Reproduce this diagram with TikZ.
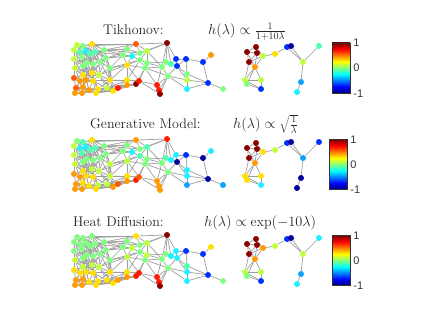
\documentclass[tikz,border=0pt]{standalone}
\usepackage{fontspec}
\newfontfamily\cbf{Liberation Sans}
\pgfdeclarelayer{bg}
\pgfsetlayers{bg,main}
\definecolor{jdr}{HTML}{8C0000}
\definecolor{jr}{HTML}{FF1A00}
\definecolor{jor}{HTML}{FF5A00}
\definecolor{jo}{HTML}{FF9A00}
\definecolor{jy}{HTML}{FFE000}
\definecolor{jyg}{HTML}{C0FF3F}
\definecolor{jg}{HTML}{80FF80}
\definecolor{jcg}{HTML}{50FFB0}
\definecolor{jc}{HTML}{20F0FF}
\definecolor{jlb}{HTML}{10A0FF}
\definecolor{jb}{HTML}{0030FF}
\definecolor{jdb}{HTML}{0000A0}
\definecolor{cbdb}{rgb}{0,0,0.5}
\definecolor{cbb}{rgb}{0,0,1}
\definecolor{cbc}{rgb}{0,1,1}
\definecolor{cby}{rgb}{1,1,0}
\definecolor{cbr}{rgb}{1,0,0}
\definecolor{cbdr}{rgb}{0.5,0,0}
\pgfdeclareverticalshading{jet}{100bp}{color(0bp)=(cbdb); color(25bp)=(cbdb); color(31.25bp)=(cbb); color(43.75bp)=(cbc); color(56.25bp)=(cby); color(68.75bp)=(cbr); color(75bp)=(cbdr); color(100bp)=(cbdr)}
\tikzset{
  dot/.style={circle,inner sep=0pt,minimum size=6pt,draw=none},
  edge/.style={draw=black!38,line width=0.7pt},
  title/.style={font=\fontsize{14}{16}\selectfont,text=black!85,inner sep=0pt,anchor=base west},
  cbar/.style={draw=black!80,line width=0.5pt,shading=jet,minimum width=18pt,minimum height=50pt,inner sep=0pt},
  cblab/.style={font=\cbf\fontsize{11}{12}\selectfont,text=black!80,inner sep=0pt,anchor=west,xshift=3pt}
}
\def\Pos{1/77/45,2/83/46,3/92/44,4/74/50,5/80/52,6/86/51,7/90/54,8/95/52,9/104/50,10/82/57,11/74/59,12/87/63,13/93/64,14/100/62,15/106/58,16/75/68,17/83/66,18/110/68,19/74/78,20/83/75,21/92/73,22/99/75,23/80/81,24/86/80,25/93/81,26/110/80,27/76/88,28/83/87,29/89/90,30/98/89,31/107/88,32/75/93,33/82/93,34/96/93,35/113/91,36/118/88,37/123/55,38/127/49,39/136/44,40/140/53,41/147/51,42/132/56,43/140/60,44/127/65,45/145/68,46/127/80,47/127/85,48/136/84,49/139/81,50/157/85,51/159/90,52/160/94,53/167/43,54/162/67,55/166/62,56/171/64,57/168/76,58/176/59,59/177/66,60/186/59,61/187/74,62/187/80,63/187/89,64/203/62,65/211/55,66/208/83,67/223/89,68/147/63,a1/247/52,a2/256/47,a3/257/53,a4/249/62,a5/263/56,a6/275/54,a7/255/67,a8/245/80,a9/261/80,a10/247/84,a11/261/89,a12/287/47,a13/291/46,a14/303/62,a15/319/46,a16/301/82,a17/297/92}
\def\Edges{1/2,1/4,1/5,2/3,2/6,3/8,3/9,4/5,4/11,5/6,5/10,6/7,7/8,8/9,9/15,9/14,10/11,10/12,10/17,11/16,12/13,13/14,14/15,15/18,16/17,16/19,17/20,12/21,13/22,14/22,18/26,19/20,19/23,20/21,21/22,22/26,23/24,24/25,25/26,23/27,24/28,25/30,26/31,27/28,28/29,29/30,30/31,31/35,27/32,32/33,33/29,30/34,34/35,35/36,1/13,2/14,4/12,5/17,6/13,7/21,8/14,9/18,10/20,11/19,12/24,13/25,14/26,15/26,16/23,17/24,20/28,21/30,22/31,3/15,6/14,1/10,2/7,4/16,19/27,23/32,24/33,25/34,29/34,18/31,26/35,31/36,9/12,8/13,11/17,16/20,3/6,7/12,20/25,21/25,28/33,30/35,5/11,15/14,1/8,4/13,11/21,16/22,19/24,27/33,12/30,17/29,1/12,2/13,3/14,4/17,5/12,6/12,7/13,8/15,10/16,11/20,12/20,13/21,14/21,15/22,16/24,17/25,18/22,19/28,20/23,21/24,22/25,23/28,24/29,25/29,26/30,27/29,28/32,29/32,30/33,31/34,34/36,26/36,9/37,18/35,1/6,2/8,3/7,4/10,6/8,10/13,11/12,12/14,13/15,16/21,17/22,19/21,20/22,23/25,24/26,27/30,33/35,14/18,15/21,22/35,25/31,2/15,6/22,10/25,5/14,9/38,9/39,8/37,3/39,15/37,15/42,18/44,18/37,14/38,26/46,31/46,35/47,35/46,36/47,36/48,26/44,30/47,9/40,2/39,8/38,18/43,22/44,31/47,34/47,35/48,26/49,37/38,38/39,38/42,39/40,39/41,40/41,40/42,42/43,43/45,41/43,41/68,43/68,45/68,37/44,44/45,44/46,44/43,46/47,47/48,48/49,45/49,46/49,45/50,49/50,50/51,51/52,45/48,37/42,42/44,44/49,38/40,43/46,39/53,41/53,40/53,53/55,53/56,53/58,41/54,68/54,68/55,45/54,45/57,50/57,51/57,52/57,50/54,53/54,49/52,54/55,55/56,56/58,56/59,58/59,54/57,57/59,58/60,59/60,60/64,64/65,60/61,61/62,62/63,59/61,57/62,57/63,64/66,61/66,66/67,62/66,63/66,59/62,a1/a2,a1/a3,a2/a3,a1/a4,a2/a5,a3/a5,a3/a4,a4/a5,a5/a6,a1/a7,a4/a7,a3/a7,a5/a7,a6/a12,a12/a13,a12/a14,a13/a14,a14/a15,a14/a16,a16/a17,a7/a8,a7/a9,a4/a8,a8/a9,a8/a10,a10/a11,a9/a11,a8/a11,a7/a10}
\newcommand\placedots[2]{\foreach \n/\c in {#2} {\node[dot,fill=\c] (N#1-\n) at (P#1-\n) {};}}
\begin{document}
\begin{tikzpicture}[x=1pt,y=-1pt]
\path[use as bounding box] (0,0) rectangle (426,321);
% coordinates for the three rows
\foreach \r/\dy in {1/0,2/96,3/192}{
  \foreach \n/\x/\y in \Pos {\coordinate (P\r-\n) at (\x,\y+\dy);}
}
% row 1
\node[title] (t1) at (103,35) {Tikhonov:};
\node[title] (f1) at (208,35) {$h(\lambda)\propto\frac{1}{1+10\lambda}$};
\placedots{1}{1/jyg,2/jg,3/jy,4/jyg,5/jcg,6/jc,7/jcg,8/jcg,9/jg,10/jg,11/jyg,12/jg,13/jg,14/jg,15/jg,16/jyg,17/jg,18/jg,19/jor,20/jy,21/jy,22/jyg,23/jo,24/jo,25/jy,26/jy,27/jor,28/jo,29/jo,30/jy,31/jyg,32/jo,33/jo,34/jy,35/jy,36/jr,37/jg,38/jg,39/jor,40/jg,41/jyg,42/jc,43/jg,44/jy,45/jg,46/jy,47/jo,48/jdr,49/jr,50/jr,51/jr,52/jdr,53/jdr,54/jg,55/jg,56/jcg,57/jg,58/jb,59/jb,60/jb,61/jg,62/jyg,63/jc,64/jb,65/jo,66/jb,67/jg,68/jg,a1/jdr,a2/jdr,a3/jdr,a4/jdr,a5/jyg,a6/jy,a7/jo,a8/jyg,a9/jyg,a10/jg,a11/jb,a12/jb,a13/jdb,a14/jyg,a15/jcg,a16/jlb,a17/jc}
\node[cbar] (cb1) at (341,68) {};
% row 2
\node[title] (t2) at (90,128.5) {Generative Model:};
\node[title] (f2) at (233,128.5) {$h(\lambda)\propto\sqrt{\frac{1}{\lambda}}$};
\placedots{2}{1/jg,2/jcg,3/jy,4/jyg,5/jc,6/jc,7/jcg,8/jcg,9/jg,10/jcg,11/jyg,12/jg,13/jg,14/jg,15/jg,16/jyg,17/jg,18/jyg,19/jo,20/jy,21/jyg,22/jyg,23/jo,24/jy,25/jy,26/jyg,27/jo,28/jy,29/jy,30/jyg,31/jyg,32/jo,33/jo,34/jy,35/jo,36/jor,37/jg,38/jg,39/jo,40/jg,41/jcg,42/jc,43/jcg,44/jyg,45/jg,46/jy,47/jo,48/jr,49/jor,50/jo,51/jo,52/jo,53/jr,54/jg,55/jcg,56/jc,57/jg,58/jc,59/jdb,60/jb,61/jc,62/jc,63/jlb,64/jdb,65/jc,66/jdb,67/jlb,68/jg,a1/jdr,a2/jdr,a3/jdr,a4/jdr,a5/jy,a6/jyg,a7/jo,a8/jy,a9/jy,a10/jy,a11/jc,a12/jb,a13/jdb,a14/jlb,a15/jb,a16/jdb,a17/jdb}
\node[cbar] (cb2) at (338,164.5) {};
% row 3
\node[title] (t3) at (73,226.5) {Heat Diffusion:};
\node[title] (f3) at (204,226.5) {$h(\lambda)\propto\exp(-10\lambda)$};
\placedots{3}{1/jg,2/jg,3/jg,4/jg,5/jg,6/jg,7/jg,8/jg,9/jg,10/jg,11/jg,12/jg,13/jg,14/jg,15/jg,16/jyg,17/jg,18/jg,19/jy,20/jyg,21/jyg,22/jyg,23/jy,24/jy,25/jy,26/jy,27/jo,28/jo,29/jy,30/jy,31/jy,32/jo,33/jo,34/jy,35/jy,36/jo,37/jg,38/jg,39/jy,40/jg,41/jyg,42/jyg,43/jg,44/jyg,45/jg,46/jy,47/jo,48/jr,49/jr,50/jr,51/jr,52/jdr,53/jdr,54/jg,55/jg,56/jc,57/jg,58/jc,59/jc,60/jb,61/jcg,62/jc,63/jc,64/jb,65/jy,66/jb,67/jg,68/jyg,a1/jdr,a2/jdr,a3/jdr,a4/jdr,a5/jo,a6/jyg,a7/jo,a8/jyg,a9/jyg,a10/jg,a11/jb,a12/jb,a13/jdb,a14/jyg,a15/jc,a16/jlb,a17/jc}
\node[cbar] (cb3) at (341,260.5) {};
% colorbar labels
\foreach \k in {1,2,3}{
  \node[cblab] (hi\k) at (cb\k.north east) {1};
  \node[cblab] (mid\k) at (cb\k.east) {0};
  \node[cblab] (lo\k) at (cb\k.south east) {-1};
}
% edges
\begin{pgfonlayer}{bg}
\foreach \r in {1,2,3}{
  \foreach \a/\b in \Edges {\draw[edge] (N\r-\a) -- (N\r-\b);}
}
\end{pgfonlayer}
\end{tikzpicture}
\end{document}
